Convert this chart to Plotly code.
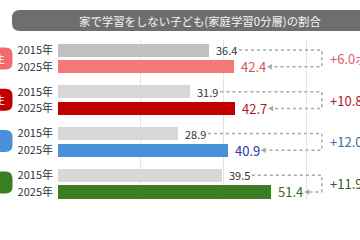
import plotly.graph_objects as go

# ---- data ----
year_labels = ["2015年", "2025年"]
vals_2015 = [36.4, 31.9, 28.9, 39.5]
vals_2025 = [42.4, 42.7, 40.9, 51.4]
diff_labels = ["+6.0ポイント", "+10.8ポイント", "+12.0ポイント", "+11.9ポイント"]
title_text = "家で学習をしない子ども(家庭学習0分層)の割合"

# ---- styles ----
c2015 = ["#c0c0c0", "#d8d8d8", "#d8d8d8", "#d8d8d8"]
c2025 = ["#f47878", "#c00000", "#4a90d9", "#3a7d22"]
lab2025 = ["#d9535a", "#b01c1c", "#2b3a9c", "#3a6b2a"]
diffc = ["#d96070", "#b01c1c", "#3d6aa0", "#3a5a28"]
pillc = ["#f26b6b", "#c00000", "#4a90d9", "#3a7d22"]
FONT = "Noto Sans CJK JP"

W, H = 360, 240
L, R, T, B = 58, 0, 40, 40
PW, PH = W - L - R, H - T - B
XMAX = 72.8
YTOP, YBOT = -0.6, 8.98
PXU = PW / XMAX  # pixels per unit

def px(x):
    return (x - L) / PW

def py(y):
    return (H - B - y) / PH

n = len(vals_2015)
y15 = [2.5 * i for i in range(n)]
y25 = [2.5 * i + 1 for i in range(n)]

fig = go.Figure()
fig.add_trace(go.Bar(x=vals_2015, y=y15, orientation="h", width=0.78,
                     marker=dict(color=c2015, line=dict(width=0)), hoverinfo="skip"))
fig.add_trace(go.Bar(x=vals_2025, y=y25, orientation="h", width=0.78,
                     marker=dict(color=c2025, line=dict(width=0)), hoverinfo="skip"))

shapes = []
ann = []

def rrect(x0, y0, x1, y1, r):
    # pixel coords -> paper path with rounded corners
    return (f"M {px(x0+r)},{py(y0)} L {px(x1-r)},{py(y0)} "
            f"Q {px(x1)},{py(y0)} {px(x1)},{py(y0+r)} L {px(x1)},{py(y1-r)} "
            f"Q {px(x1)},{py(y1)} {px(x1-r)},{py(y1)} L {px(x0+r)},{py(y1)} "
            f"Q {px(x0)},{py(y1)} {px(x0)},{py(y1-r)} L {px(x0)},{py(y0+r)} "
            f"Q {px(x0)},{py(y0)} {px(x0+r)},{py(y0)} Z")

# title banner
shapes.append(dict(type="path", xref="paper", yref="paper", path=rrect(12, 10, 380, 31, 8),
                   fillcolor="#6e6e6e", line=dict(width=0), layer="above"))
ann.append(dict(text=title_text, xref="paper", yref="paper", x=px(200), y=py(20.5),
                xanchor="center", yanchor="middle",
                showarrow=False, font=dict(size=11.4, color="#f4f4f4", family=FONT)))

for i in range(n):
    # left pill
    cy = 58.5 + i * 41.3
    shapes.append(dict(type="path", xref="paper", yref="paper",
                       path=rrect(-20, cy - 11, 12.5, cy + 11, 7),
                       fillcolor=pillc[i], line=dict(width=0), layer="above"))
    if i < 2:
        ann.append(dict(text="生", xref="paper", yref="paper", x=px(7), y=py(cy),
                        xanchor="right", yanchor="middle", showarrow=False,
                        font=dict(size=10, color="white", family=FONT)))
    # value labels
    ann.append(dict(text=f"{vals_2015[i]:.1f}", x=vals_2015[i], y=y15[i], xanchor="left",
                    xshift=5, showarrow=False, font=dict(size=11, color="#333333", family=FONT)))
    ann.append(dict(text=f"{vals_2025[i]:.1f}", x=vals_2025[i], y=y25[i], xanchor="left",
                    xshift=5, showarrow=False, font=dict(size=13, color=lab2025[i], family=FONT)))
    # dotted connector
    xs = vals_2015[i] + 30 / PXU
    xv = 63.6
    xa = vals_2025[i] + 33 / PXU
    shapes.append(dict(type="path", xref="x", yref="y",
                       path=f"M {xs},{y15[i]} L {xv},{y15[i]} L {xv},{y25[i]} L {xa + 4 / PXU},{y25[i]}",
                       line=dict(color="#a8a8a8", width=1.5, dash="dot")))
    shapes.append(dict(type="path", xref="x", yref="y",
                       path=f"M {xa},{y25[i]} L {xa + 5 / PXU},{y25[i] - 0.17} L {xa + 5 / PXU},{y25[i] + 0.17} Z",
                       fillcolor="#a8a8a8", line=dict(width=0)))
    # difference label
    ann.append(dict(text=diff_labels[i], x=65.0, y=(y15[i] + y25[i]) / 2, xanchor="left",
                    showarrow=False, font=dict(size=13, color=diffc[i], family=FONT)))

tickvals = []
ticktext = []
for i in range(n):
    tickvals += [y15[i], y25[i]]
    ticktext += year_labels

fig.update_layout(
    width=W, height=H, margin=dict(l=L, r=R, t=T, b=B),
    paper_bgcolor="white", plot_bgcolor="white", showlegend=False,
    bargap=0, shapes=shapes, annotations=ann,
    xaxis=dict(range=[0, XMAX], dtick=20, showgrid=True, gridcolor="#e4e4e4",
               showticklabels=False, zeroline=False, showline=False, fixedrange=True),
    yaxis=dict(range=[YBOT, YTOP], tickvals=tickvals, ticktext=ticktext, showgrid=False,
               zeroline=False, ticks="", ticklabelstandoff=4,
               tickfont=dict(size=11, color="#333333", family=FONT)),
    font=dict(family=FONT),
)

fig.write_html("out.html")
